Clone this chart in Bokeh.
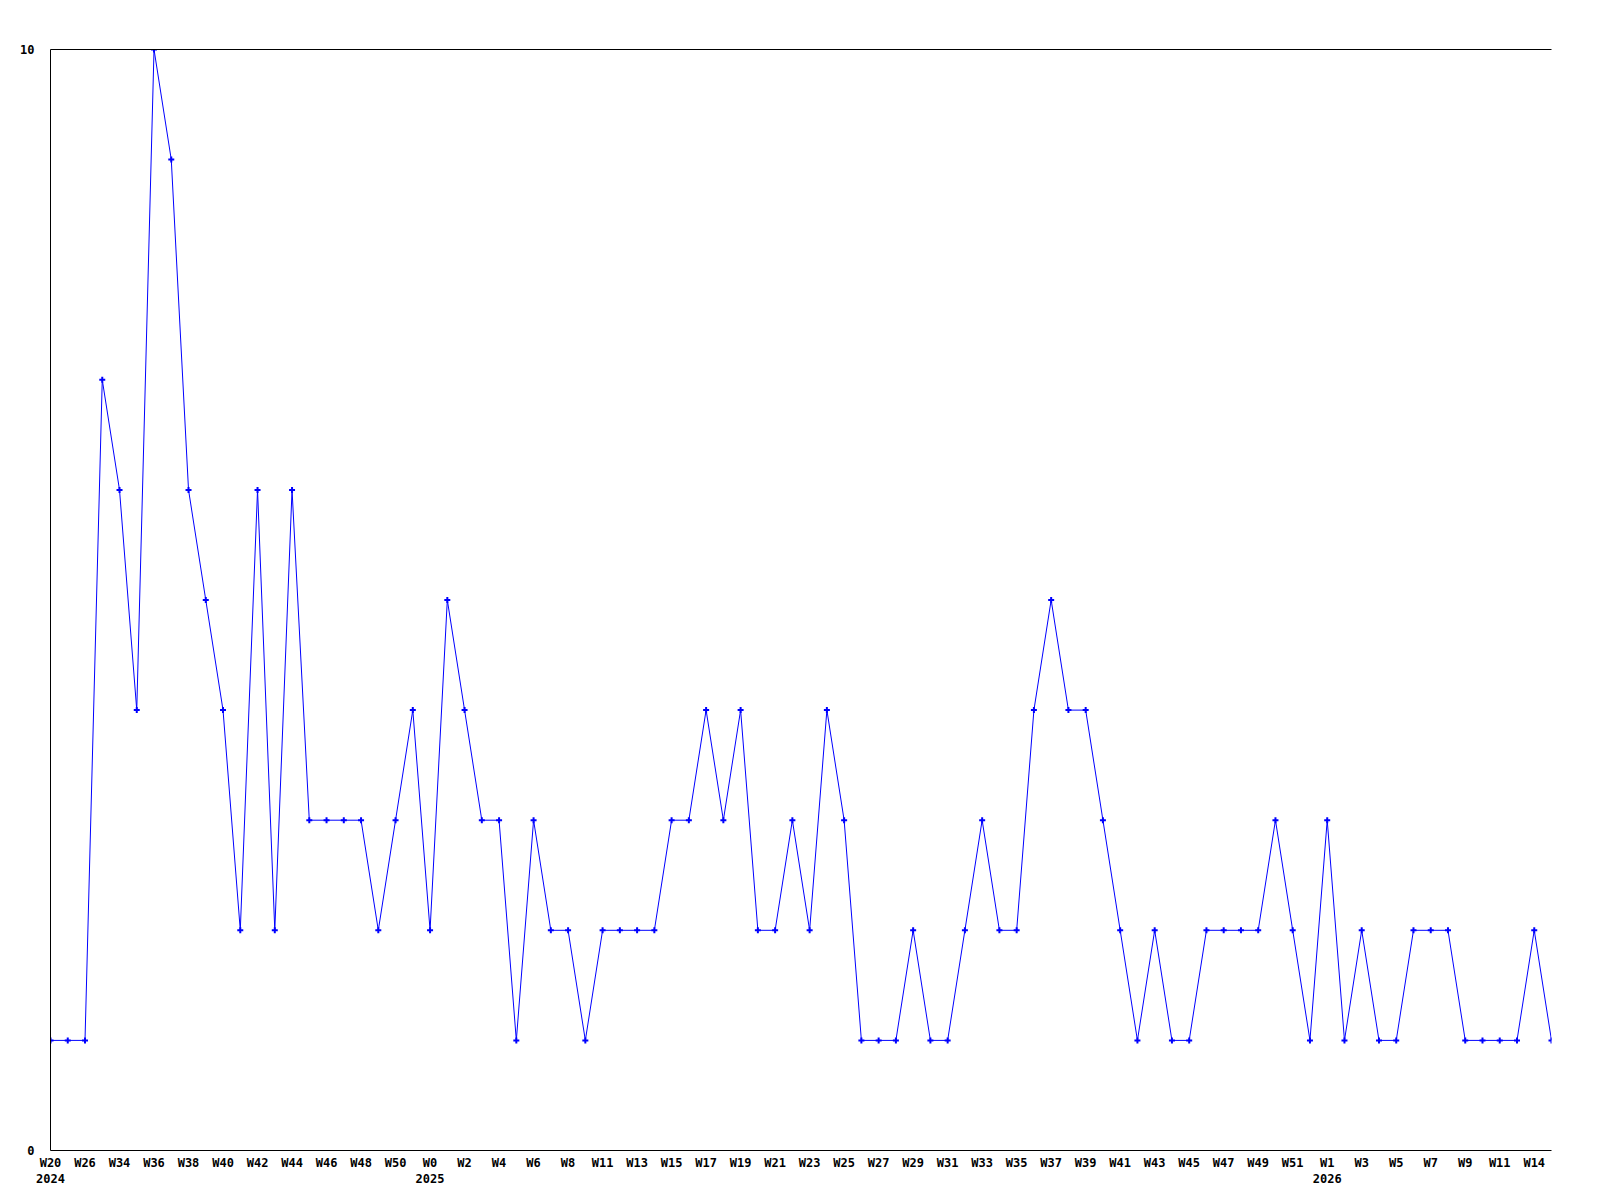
from bokeh.plotting import figure
from bokeh.models import FixedTicker, Range1d, LinearAxis
from bokeh.embed import file_html
from bokeh.resources import INLINE

# ---- data ----
weeks = ["W20", "W23", "W26", "W30", "W34", "W35", "W36", "W37", "W38", "W39",
         "W40", "W41", "W42", "W43", "W44", "W45", "W46", "W47", "W48", "W49",
         "W50", "W51", "W0", "W1", "W2", "W3", "W4", "W5", "W6", "W7",
         "W8", "W10", "W11", "W12", "W13", "W14", "W15", "W16", "W17", "W18",
         "W19", "W20", "W21", "W22", "W23", "W24", "W25", "W26", "W27", "W28",
         "W29", "W30", "W31", "W32", "W33", "W34", "W35", "W36", "W37", "W38",
         "W39", "W40", "W41", "W42", "W43", "W44", "W45", "W46", "W47", "W48",
         "W49", "W50", "W51", "W52", "W1", "W2", "W3", "W4", "W5", "W6",
         "W7", "W8", "W9", "W10", "W11", "W13", "W14", "W15"]
years = ([2024] * 22) + ([2025] * 52) + ([2026] * 14)
counts = [1, 1, 1, 7, 6, 4, 10, 9, 6, 5,
          4, 2, 6, 2, 6, 3, 3, 3, 3, 2,
          3, 4, 2, 5, 4, 3, 3, 1, 3, 2,
          2, 1, 2, 2, 2, 2, 3, 3, 4, 3,
          4, 2, 2, 3, 2, 4, 3, 1, 1, 1,
          2, 1, 1, 2, 3, 2, 2, 4, 5, 4,
          4, 3, 2, 1, 2, 1, 1, 2, 2, 2,
          2, 3, 2, 1, 3, 1, 2, 1, 1, 2,
          2, 2, 1, 1, 1, 1, 2, 1]
y_ticks = [0, 10]

idx = list(range(len(counts)))

# tick labels: every second week, with the year under the first label of each year
tick_idx = idx[::2]
overrides = {}
last_year = None
for i in tick_idx:
    lab = weeks[i]
    if years[i] != last_year:
        lab = lab + "\n" + str(years[i])
        last_year = years[i]
    overrides[i] = lab

FONT = "DejaVu Sans Mono"

p = figure(width=1592, height=1192, output_backend="svg", toolbar_location=None,
           x_range=Range1d(0, len(counts) - 1), y_range=Range1d(0, 10),
           min_border_left=50, min_border_right=41, min_border_top=49,
           min_border_bottom=42)
p.outline_line_color = None
p.background_fill_color = "white"
p.border_fill_color = "white"

p.line(idx, counts, line_color="#0000FF", line_width=1)
p.scatter(idx, counts, marker="cross", size=6, line_width=2, line_color="#0000FF")

xax = p.below[0]
yax = p.left[0]

xax.ticker = FixedTicker(ticks=tick_idx)
xax.major_label_overrides = overrides
yax.ticker = FixedTicker(ticks=y_ticks)

for ax in (xax, yax):
    ax.major_tick_out = 0
    ax.major_tick_in = 0
    ax.minor_tick_out = 0
    ax.minor_tick_in = 0
    ax.axis_line_color = "black"
    ax.axis_line_width = 1
    ax.major_label_text_font = FONT
    ax.major_label_text_font_style = "bold"
    ax.major_label_text_font_size = "12px"
    ax.major_label_text_color = "black"

xax.major_label_standoff = 5
yax.major_label_standoff = 16

# top border line at y = 10
top = LinearAxis(ticker=FixedTicker(ticks=[]), major_label_text_font_size="0px",
                 major_tick_out=0, major_tick_in=0, minor_tick_out=0, minor_tick_in=0,
                 axis_line_color="black", axis_line_width=1)
p.add_layout(top, "above")

p.xgrid.visible = False
p.ygrid.visible = False

open("out.html", "w").write(file_html(p, INLINE))
